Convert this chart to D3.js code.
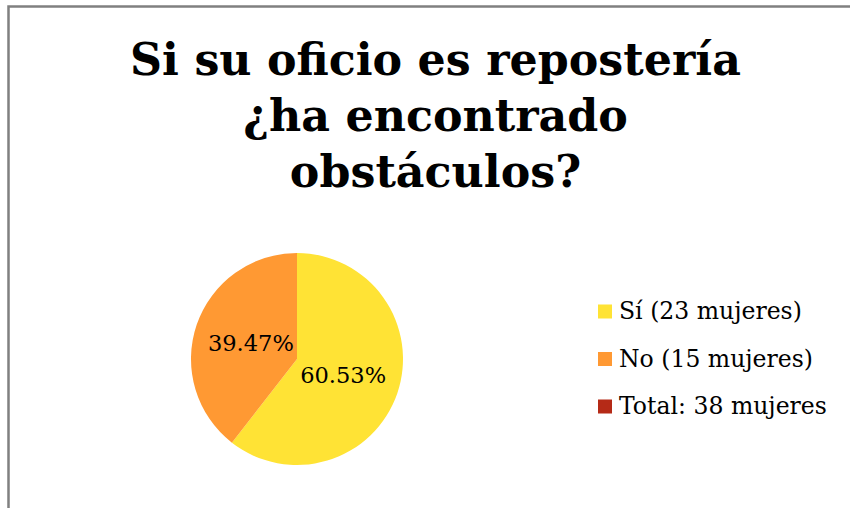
<!DOCTYPE html>
<html><head><meta charset="utf-8">
<script src="https://cdn.jsdelivr.net/npm/d3@7"></script>
<style>html,body{margin:0;padding:0;background:#fff;overflow:hidden}</style>
</head><body>
<svg id="chart" width="850" height="508"></svg>
<script>
const titleLines = ["Si su oficio es repostería", "¿ha encontrado", "obstáculos?"];
const categories = ["Sí", "No"];
const counts = [23, 15];
const colors = ["#FFE335", "#FF9933"];
const legendLabels = ["Sí (23 mujeres)", "No (15 mujeres)", "Total: 38 mujeres"];
const legendColors = ["#FFE335", "#FF9933", "#B52A17"];

const svg = d3.select("#chart");
const FONT = "'DejaVu Serif', 'Liberation Serif', serif";

// border (top and left visible)
svg.append("rect").attr("x", 8.5).attr("y", 6.5).attr("width", 900).attr("height", 600)
  .attr("fill", "none").attr("stroke", "#808080").attr("stroke-width", 2.5);

function fitSize(text, weight, target, base) {
  const t = svg.append("text").attr("font-family", FONT).attr("font-weight", weight)
    .attr("font-size", base).text(text);
  const w = t.node().getComputedTextLength();
  t.remove();
  return base * target / w;
}

// title
const titleSize = fitSize(titleLines[0], "bold", 611, 40);
const titleBase = [75, 131, 187];
svg.append("g").selectAll("text").data(titleLines).join("text")
  .attr("x", 435.5).attr("y", (d, i) => titleBase[i])
  .attr("text-anchor", "middle").attr("font-family", FONT).attr("font-weight", "bold")
  .attr("font-size", titleSize).attr("fill", "#000").text(d => d);

// pie
const cx = 297, cy = 359, r = 106;
const total = d3.sum(counts);
const pie = d3.pie().sort(null).value(d => d.v);
const data = categories.map((c, i) => ({c, v: counts[i], col: colors[i]}));
const arcs = pie(data);
const arc = d3.arc().innerRadius(0).outerRadius(r);
const labelArc = d3.arc().innerRadius(r * 0.46).outerRadius(r * 0.46);
const g = svg.append("g").attr("transform", `translate(${cx},${cy})`);
g.selectAll("path").data(arcs).join("path").attr("d", arc).attr("fill", d => d.data.col);

const lblSize = fitSize("60.53%", "normal", 86, 20);
g.selectAll("text").data(arcs).join("text")
  .attr("x", d => labelArc.centroid(d)[0])
  .attr("y", d => labelArc.centroid(d)[1])
  .attr("text-anchor", "middle").attr("dy", "0.36em")
  .attr("font-family", FONT).attr("font-size", lblSize).attr("fill", "#000")
  .text(d => (d.data.v / total * 100).toFixed(2) + "%");

// legend
const legSize = fitSize(legendLabels[0], "normal", 183, 20);
const legY = d3.scalePoint().domain(d3.range(legendLabels.length)).range([311.5, 406.5]);
const lg = svg.append("g");
lg.selectAll("rect").data(legendLabels).join("rect")
  .attr("x", 598).attr("y", (d, i) => legY(i) - 7).attr("width", 14).attr("height", 14)
  .attr("fill", (d, i) => legendColors[i]);
lg.selectAll("text").data(legendLabels).join("text")
  .attr("x", 619).attr("y", (d, i) => legY(i) + 7.5)
  .attr("font-family", FONT).attr("font-size", legSize).attr("fill", "#000").text(d => d);
</script>
</body></html>
